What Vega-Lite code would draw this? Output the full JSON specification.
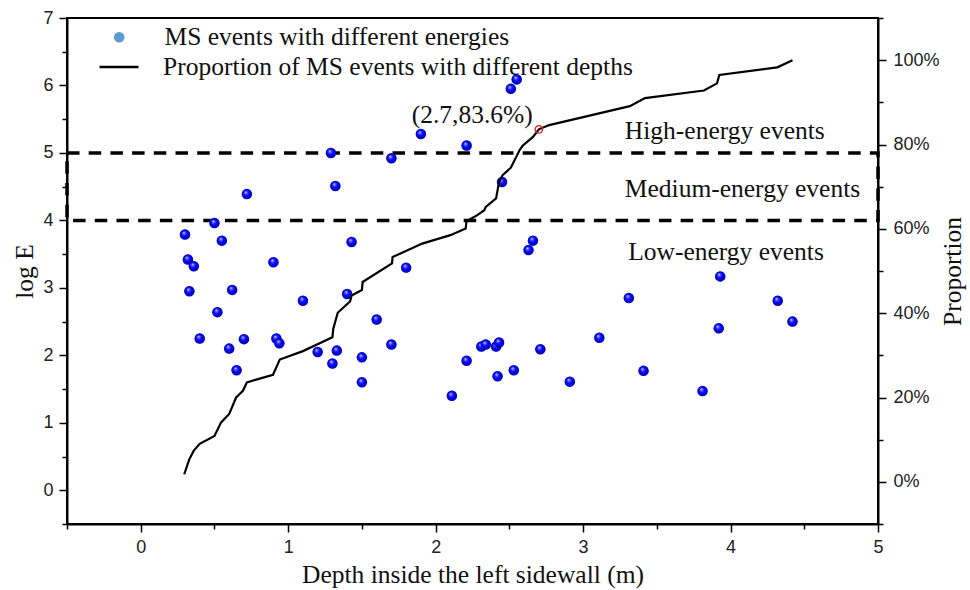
{
  "$schema": "https://vega.github.io/schema/vega-lite/v6.json",
  "width": 811,
  "height": 506,
  "autosize": {"type": "none"},
  "padding": {"left": 67, "top": 18, "right": 92, "bottom": 66},
  "background": "white",
  "config": {
    "view": {"stroke": "black", "strokeWidth": 2},
    "axis": {
      "domainColor": "black", "domainWidth": 2, "tickColor": "black", "tickWidth": 1.5,
      "labelFont": "Liberation Sans", "labelFontSize": 18, "labelColor": "#222",
      "titleFont": "Liberation Serif", "titleFontSize": 25.5, "titleFontWeight": "normal", "titleColor": "#111",
      "grid": false, "labelOverlap": false, "labelFlush": false
    },
    "legend": {"labelFont": "Liberation Serif", "labelFontSize": 25.5, "labelColor": "#111", "labelLimit": 2000}
  },
  "datasets": {
    "pts": [
      {"depth": 0.30, "logE": 3.79}, {"depth": 0.50, "logE": 3.96}, {"depth": 0.72, "logE": 4.39},
      {"depth": 0.55, "logE": 3.70}, {"depth": 0.32, "logE": 3.42}, {"depth": 0.36, "logE": 3.32},
      {"depth": 0.90, "logE": 3.38}, {"depth": 0.33, "logE": 2.95}, {"depth": 0.62, "logE": 2.97},
      {"depth": 1.10, "logE": 2.81}, {"depth": 1.29, "logE": 5.00}, {"depth": 0.52, "logE": 2.64},
      {"depth": 0.40, "logE": 2.25}, {"depth": 0.70, "logE": 2.24}, {"depth": 0.60, "logE": 2.10},
      {"depth": 0.92, "logE": 2.25}, {"depth": 0.94, "logE": 2.18}, {"depth": 0.65, "logE": 1.78},
      {"depth": 1.20, "logE": 2.05}, {"depth": 1.30, "logE": 1.88}, {"depth": 2.55, "logE": 6.09},
      {"depth": 2.51, "logE": 5.95}, {"depth": 1.90, "logE": 5.28}, {"depth": 2.21, "logE": 5.11},
      {"depth": 1.70, "logE": 4.92}, {"depth": 1.32, "logE": 4.51}, {"depth": 2.45, "logE": 4.57},
      {"depth": 1.43, "logE": 3.68}, {"depth": 2.66, "logE": 3.70}, {"depth": 2.63, "logE": 3.56},
      {"depth": 1.80, "logE": 3.30}, {"depth": 1.40, "logE": 2.91}, {"depth": 3.31, "logE": 2.85},
      {"depth": 1.60, "logE": 2.53}, {"depth": 1.70, "logE": 2.16}, {"depth": 1.33, "logE": 2.07},
      {"depth": 1.50, "logE": 1.97}, {"depth": 1.50, "logE": 1.60}, {"depth": 2.11, "logE": 1.40},
      {"depth": 2.21, "logE": 1.92}, {"depth": 2.31, "logE": 2.13}, {"depth": 2.34, "logE": 2.16},
      {"depth": 2.41, "logE": 2.13}, {"depth": 2.43, "logE": 2.19}, {"depth": 2.42, "logE": 1.69},
      {"depth": 2.53, "logE": 1.78}, {"depth": 2.71, "logE": 2.09}, {"depth": 2.91, "logE": 1.61},
      {"depth": 3.11, "logE": 2.26}, {"depth": 3.41, "logE": 1.77}, {"depth": 3.93, "logE": 3.17},
      {"depth": 4.32, "logE": 2.81}, {"depth": 4.42, "logE": 2.50}, {"depth": 3.92, "logE": 2.40},
      {"depth": 3.81, "logE": 1.47}
    ],
    "prop": [
      {"depth": 0.295, "p": 0.018}, {"depth": 0.33, "p": 0.054}, {"depth": 0.36, "p": 0.074},
      {"depth": 0.40, "p": 0.090}, {"depth": 0.50, "p": 0.109}, {"depth": 0.545, "p": 0.141},
      {"depth": 0.60, "p": 0.161}, {"depth": 0.647, "p": 0.200}, {"depth": 0.693, "p": 0.216},
      {"depth": 0.72, "p": 0.236}, {"depth": 0.897, "p": 0.254}, {"depth": 0.943, "p": 0.290},
      {"depth": 1.10, "p": 0.310}, {"depth": 1.30, "p": 0.343}, {"depth": 1.306, "p": 0.363},
      {"depth": 1.336, "p": 0.401}, {"depth": 1.42, "p": 0.428}, {"depth": 1.43, "p": 0.442},
      {"depth": 1.50, "p": 0.455}, {"depth": 1.505, "p": 0.474}, {"depth": 1.704, "p": 0.518},
      {"depth": 1.708, "p": 0.533}, {"depth": 1.909, "p": 0.565}, {"depth": 2.10, "p": 0.585},
      {"depth": 2.204, "p": 0.601}, {"depth": 2.209, "p": 0.618}, {"depth": 2.28, "p": 0.632},
      {"depth": 2.33, "p": 0.644}, {"depth": 2.34, "p": 0.652}, {"depth": 2.41, "p": 0.672},
      {"depth": 2.43, "p": 0.711}, {"depth": 2.454, "p": 0.727}, {"depth": 2.51, "p": 0.745},
      {"depth": 2.57, "p": 0.787}, {"depth": 2.59, "p": 0.797}, {"depth": 2.66, "p": 0.818},
      {"depth": 2.70, "p": 0.836}, {"depth": 2.77, "p": 0.846}, {"depth": 3.317, "p": 0.891},
      {"depth": 3.42, "p": 0.910}, {"depth": 3.82, "p": 0.928}, {"depth": 3.908, "p": 0.945},
      {"depth": 3.924, "p": 0.965}, {"depth": 4.317, "p": 0.983}, {"depth": 4.42, "p": 1.000}
    ]
  },
  "layer": [
    {
      "data": {"values": [{"low": 4, "high": 5}]},
      "mark": {"type": "rect", "fill": "transparent", "stroke": "black", "strokeWidth": 3.5, "strokeDash": [12.5, 9.2]},
      "encoding": {
        "x": {
          "datum": -0.5, "type": "quantitative",
          "scale": {"domain": [-0.5, 5], "nice": false, "zero": false},
          "axis": {
            "title": "Depth inside the left sidewall (m)",
            "values": [-0.5, 0, 0.5, 1, 1.5, 2, 2.5, 3, 3.5, 4, 4.5, 5],
            "labelExpr": "datum.value % 1 === 0 ? format(datum.value, 'd') : ''",
            "tickSize": {"expr": "(datum.value % 1 !== 0 ? 5 : 8)"},
            "labelPadding": 6, "titlePadding": 6
          }
        },
        "x2": {"datum": 5},
        "y": {"field": "low", "type": "quantitative", "scale": {"domain": [-0.5, 7], "nice": false, "zero": false}, "axis": null},
        "y2": {"field": "high"}
      }
    },
    {
      "data": {"values": [
        {"label": "High-energy events", "depth": 3.283, "logE": 5.213},
        {"label": "Medium-energy events", "depth": 3.283, "logE": 4.346},
        {"label": "Low-energy events", "depth": 3.306, "logE": 3.416}
      ]},
      "mark": {"type": "text", "align": "left", "baseline": "alphabetic", "font": "Liberation Serif", "fontSize": 25.5, "color": "#111"},
      "encoding": {
        "x": {"field": "depth", "type": "quantitative", "scale": {"domain": [-0.5, 5], "nice": false, "zero": false}},
        "y": {"field": "logE", "type": "quantitative", "scale": {"domain": [-0.5, 7], "nice": false, "zero": false}, "axis": null},
        "text": {"field": "label"}
      }
    },
    {
      "data": {"name": "pts"},
      "mark": {"type": "point", "filled": true, "size": 100, "opacity": 1, "strokeWidth": 0, "fill": "#5b9bd5"},
      "encoding": {
        "x": {"field": "depth", "type": "quantitative", "scale": {"domain": [-0.5, 5], "nice": false, "zero": false}},
        "y": {
          "field": "logE", "type": "quantitative",
          "scale": {"domain": [-0.5, 7], "nice": false, "zero": false},
          "axis": {
            "title": "log E", "orient": "left",
            "values": [-0.5, 0, 0.5, 1, 1.5, 2, 2.5, 3, 3.5, 4, 4.5, 5, 5.5, 6, 6.5, 7],
            "labelExpr": "datum.value % 1 === 0 ? format(datum.value, 'd') : ''",
            "tickSize": {"expr": "(datum.value % 1 !== 0 ? 5 : 8)"},
            "labelPadding": 6, "titlePadding": 5
          }
        },
        "shape": {
          "datum": "MS events with different energies",
          "scale": {"range": ["circle"]},
          "legend": {
            "orient": "none", "legendX": 39.5, "legendY": 6.5, "title": null, "padding": 0,
            "symbolSize": 115, "symbolFillColor": "#5b9bd5", "symbolStrokeColor": "#41719c",
            "symbolStrokeWidth": 0.8, "symbolOpacity": 1, "labelOffset": 32.5
          }
        }
      }
    },
    {
      "data": {"name": "pts"},
      "mark": {
        "type": "point", "shape": "circle", "filled": true, "size": 110, "opacity": 1, "strokeWidth": 0,
        "fill": {"gradient": "radial", "x1": 0.38, "y1": 0.32, "r1": 0, "x2": 0.5, "y2": 0.5, "r2": 0.55,
          "stops": [{"offset": 0, "color": "#ffffff"}, {"offset": 0.18, "color": "#6a6aff"}, {"offset": 0.45, "color": "#0a0af5"}, {"offset": 1, "color": "#0000b0"}]}
      },
      "encoding": {
        "x": {"field": "depth", "type": "quantitative", "scale": {"domain": [-0.5, 5], "nice": false, "zero": false}},
        "y": {"field": "logE", "type": "quantitative", "scale": {"domain": [-0.5, 7], "nice": false, "zero": false}, "axis": null}
      }
    },
    {
      "data": {"name": "prop"},
      "mark": {"type": "line", "stroke": "black", "strokeWidth": 2.2},
      "encoding": {
        "x": {"field": "depth", "type": "quantitative", "scale": {"domain": [-0.5, 5], "nice": false, "zero": false}},
        "y": {
          "field": "p", "type": "quantitative",
          "scale": {"domain": [-0.1, 1.1], "nice": false, "zero": false},
          "axis": {
            "title": "Proportion", "orient": "right", "titleAngle": 270,
            "values": [-0.1, 0, 0.1, 0.2, 0.3, 0.4, 0.5, 0.6, 0.7, 0.8, 0.9, 1.0, 1.1],
            "labelExpr": "round(datum.value * 100) % 20 === 0 && datum.value > -0.05 && datum.value < 1.05 ? format(datum.value, '.0%') : ''",
            "tickSize": {"expr": "(round(datum.value * 100) % 20 !== 0 ? 5 : 8)"},
            "labelPadding": 7, "titlePadding": 26
          }
        },
        "color": {
          "datum": "Proportion of MS events with different depths",
          "scale": {"range": ["black"]},
          "legend": {
            "orient": "none", "legendX": 31, "legendY": 28, "title": null, "padding": 0,
            "symbolType": "stroke", "symbolSize": 1521, "symbolStrokeWidth": 2.5, "symbolStrokeColor": "black",
            "labelOffset": 23
          }
        }
      }
    },
    {
      "data": {"values": [{"depth": 2.7, "p": 0.836}]},
      "mark": {"type": "point", "shape": "circle", "size": 55, "filled": false, "stroke": "#e02020", "strokeWidth": 1.3, "opacity": 1},
      "encoding": {
        "x": {"field": "depth", "type": "quantitative", "scale": {"domain": [-0.5, 5], "nice": false, "zero": false}},
        "y": {"field": "p", "type": "quantitative", "scale": {"domain": [-0.1, 1.1], "nice": false, "zero": false}, "axis": null}
      }
    },
    {
      "data": {"values": [{"depth": 2.7, "p": 0.836, "label": "(2.7,83.6%)"}]},
      "mark": {"type": "text", "align": "right", "baseline": "alphabetic", "dx": -6, "dy": -6, "font": "Liberation Serif", "fontSize": 25.5, "color": "#111"},
      "encoding": {
        "x": {"field": "depth", "type": "quantitative", "scale": {"domain": [-0.5, 5], "nice": false, "zero": false}},
        "y": {"field": "p", "type": "quantitative", "scale": {"domain": [-0.1, 1.1], "nice": false, "zero": false}, "axis": null},
        "text": {"field": "label"}
      }
    }
  ],
  "resolve": {"scale": {"y": "independent"}, "axis": {"y": "independent"}}
}
